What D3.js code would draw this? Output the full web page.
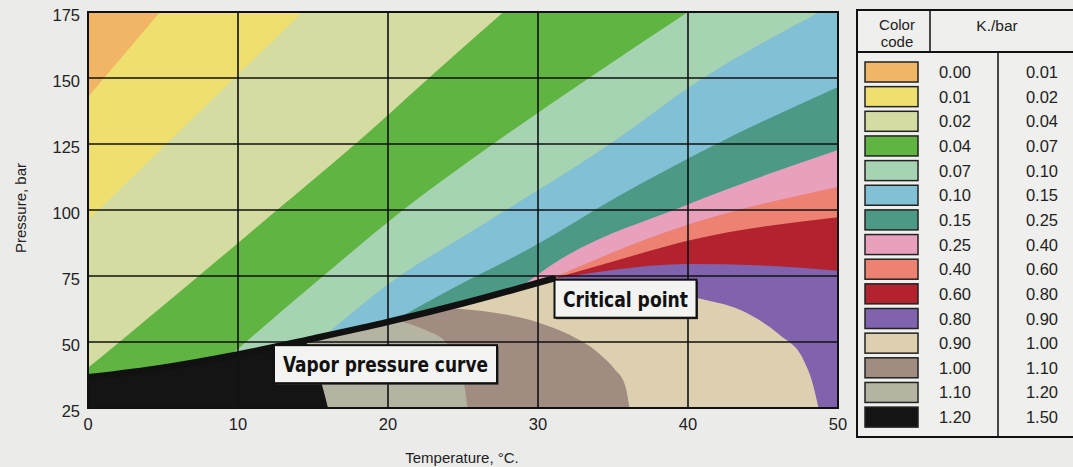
<!DOCTYPE html>
<html>
<head>
<meta charset="utf-8">
<script src="https://cdn.jsdelivr.net/npm/d3@7"></script>
<style>
  body { margin: 0; background: #ebebe9; }
  svg { display: block; }
</style>
</head>
<body>
<div id="chart"></div>
<script>
// ---- data (temperature in °C, pressure in bar) ----
const tempTicks = [0, 10, 20, 30, 40, 50];
const pressTicks = [25, 50, 75, 100, 125, 150, 175];

const bandLow  = ["0.00","0.01","0.02","0.04","0.07","0.10","0.15","0.25","0.40","0.60","0.80","0.90","1.00","1.10","1.20"];
const bandHigh = ["0.01","0.02","0.04","0.07","0.10","0.15","0.25","0.40","0.60","0.80","0.90","1.00","1.10","1.20","1.50"];
const bandColors = ["#f0b565","#efdf6e","#d4dca2","#5fb442","#a6d3b1","#82c0d5","#4c9985",
                    "#e8a0bd","#ee8272","#b2222f","#8063ac","#ddd0b0","#a18c82","#b5b3a2","#141414"];

const vaporCurve = [[0,36.6],[5,40.3],[10,45.3],[15,51.3],[20,57.6],[25,64.6],[31,74]];

// boundaries on the gas / supercritical side, band i | band i+1
const gasBoundaries = [
  [[0,142.8],[4.8,175]],
  [[0,96.2],[14.3,175]],
  [[0,40.2],[2.1,50],[7.3,74.6],[12.6,100],[17.9,125.4],[22.8,150.4],[27.7,175]],
  [[9.3,44],[15.6,74.6],[21,100],[27.1,125.4],[33.5,150.4],[40,175]],
  [[15.6,51.5],[20.1,72.3],[25.5,91.7],[34.6,124.2],[40.8,149.2],[48.8,175]],
  [[20.3,57.8],[24.1,69.7],[29.5,85.6],[35.5,105.7],[41.5,123.9],[50,146.6]],
  [[28.8,70.6],[30.8,78.8],[39.9,101.9],[50,122.7]],
  [[30.6,73.4],[39.9,94.3],[50,108.7]],
  [[30.8,73.7],[35,80.5],[39.9,88.3],[50,97.3]],
  [[31,74],[34,76.5],[40,79.5],[45,79],[50,77]]
];

// edge of the dense region (purple | tan), from the critical point down
const denseEdge = [[31,74],[35.5,73],[40.6,66.7],[43.5,62.1],[46.1,52.7],[47.7,43.2],[48.3,34.5],[48.7,25]];

// boundaries inside the dense region: tan|brown, brown|grey, grey|black
const liquidBoundaries = [
  [[20.8,60],[23.5,62.9],[26.3,61.7],[29.9,57.6],[32.1,52.7],[34.1,45.5],[35.1,39.8],[35.8,33.7],[36.1,25]],
  [[20.5,58.2],[22.5,54.5],[23.9,49.6],[24.9,39.4],[25.3,25]],
  [[14.5,50.6],[15.1,42.4],[15.6,33.7],[16,25]]
];

const annotations = [
  {text: "Vapor pressure curve", t: 12.4, p: 48.8, w: 223, tl: 205},
  {text: "Critical point", t: 31.1, p: 73.6, w: 142, tl: 125}
];

// ---- drawing ----
const width = 1073, height = 467;
const svg = d3.select("#chart").append("svg")
  .attr("width", width).attr("height", height);

svg.append("rect").attr("width", width).attr("height", height).attr("fill", "#ebebe9");

const x = d3.scaleLinear().domain([0, 50]).range([88, 838]);
const y = d3.scaleLinear().domain([25, 175]).range([408, 12]);
const smooth = d3.line().x(d => x(d[0])).y(d => y(d[1])).curve(d3.curveMonotoneX);
const straight = pts => pts.map(d => `L${x(d[0])},${y(d[1])}`).join("");
const region = (pts, tail) => smooth(pts) + straight(tail) + "Z";

const defs = svg.append("defs");
defs.append("clipPath").attr("id", "plotClip")
  .append("rect").attr("x", x(0)).attr("y", y(175))
  .attr("width", x(50) - x(0)).attr("height", y(25) - y(175));

const densePath = smooth(vaporCurve) + smooth(denseEdge).replace(/^M/, "L") + straight([[0, 25]]) + "Z";
defs.append("clipPath").attr("id", "denseClip")
  .append("path").attr("d", densePath);

const plot = svg.append("g").attr("clip-path", "url(#plotClip)");

plot.append("rect")
  .attr("x", x(0)).attr("y", y(175))
  .attr("width", x(50) - x(0)).attr("height", y(25) - y(175))
  .attr("fill", bandColors[0]);

plot.selectAll("path.gas")
  .data(gasBoundaries)
  .join("path").attr("class", "gas")
  .attr("d", pts => {
    const last = pts[pts.length - 1];
    const extra = last[1] >= 175 ? [[50, 175]] : [];
    return region(pts, extra.concat([[50, 25], [pts[0][0], 25]]));
  })
  .attr("fill", (d, i) => bandColors[i + 1]);

plot.append("path").attr("d", densePath).attr("fill", bandColors[11]);

plot.append("g").attr("clip-path", "url(#denseClip)")
  .selectAll("path")
  .data(liquidBoundaries)
  .join("path")
  .attr("d", pts => region(pts, [[0, 25], [0, 175], [pts[0][0], 175]]))
  .attr("fill", (d, i) => bandColors[12 + i]);

// grid
const grid = svg.append("g").attr("stroke", "#111").attr("stroke-width", 1.6);
grid.selectAll("line.v").data(tempTicks).join("line").attr("class", "v")
  .attr("x1", d => x(d)).attr("x2", d => x(d)).attr("y1", y(25)).attr("y2", y(175));
grid.selectAll("line.h").data(pressTicks).join("line").attr("class", "h")
  .attr("x1", x(0)).attr("x2", x(50)).attr("y1", d => y(d)).attr("y2", d => y(d));

// vapor pressure curve
svg.append("g").attr("clip-path", "url(#plotClip)")
  .append("path").attr("d", smooth(vaporCurve))
  .attr("fill", "none").attr("stroke", "#111").attr("stroke-width", 6.5)
  .attr("stroke-linecap", "round");

svg.append("rect")
  .attr("x", x(0)).attr("y", y(175))
  .attr("width", x(50) - x(0)).attr("height", y(25) - y(175))
  .attr("fill", "none").attr("stroke", "#111").attr("stroke-width", 2);

// annotations
const ann = svg.selectAll("g.ann").data(annotations).join("g").attr("class", "ann")
  .attr("transform", d => `translate(${x(d.t)},${y(d.p)})`);
ann.append("rect").attr("x", 1.5).attr("y", 1.5).attr("width", d => d.w).attr("height", 38)
  .attr("fill", "#333");
ann.append("rect").attr("width", d => d.w).attr("height", 38)
  .attr("fill", "#f3f3f1").attr("stroke", "#111").attr("stroke-width", 2);
ann.append("text")
  .attr("x", d => d.w / 2).attr("y", 27)
  .attr("text-anchor", "middle")
  .attr("textLength", d => d.tl).attr("lengthAdjust", "spacingAndGlyphs")
  .style("font-family", "'Liberation Sans Narrow','DejaVu Sans Condensed','Liberation Sans',sans-serif")
  .style("font-weight", "bold").style("font-size", "22px").style("fill", "#111")
  .text(d => d.text);

// axes labels
const tickFont = "'Liberation Sans', Arial, sans-serif";
svg.selectAll("text.yt").data(pressTicks).join("text").attr("class", "yt")
  .attr("x", 80).attr("y", d => y(d) + 9)
  .attr("text-anchor", "end")
  .style("font-family", tickFont).style("font-size", "16.5px").style("fill", "#222")
  .text(d => d);
svg.selectAll("text.xt").data(tempTicks).join("text").attr("class", "xt")
  .attr("x", d => x(d)).attr("y", 430)
  .attr("text-anchor", "middle")
  .style("font-family", tickFont).style("font-size", "16.5px").style("fill", "#222")
  .text(d => d);

svg.append("text")
  .attr("transform", "translate(26,208) rotate(-90)")
  .attr("text-anchor", "middle")
  .style("font-family", tickFont).style("font-size", "15px").style("fill", "#222")
  .text("Pressure, bar");
svg.append("text")
  .attr("x", 462).attr("y", 463)
  .attr("text-anchor", "middle")
  .style("font-family", tickFont).style("font-size", "15px").style("fill", "#222")
  .text("Temperature, °C.");

// legend table
const leg = svg.append("g").style("font-family", tickFont).style("fill", "#222");
const rowY = i => 72 + i * 24.65;
leg.append("rect").attr("x", 857).attr("y", 10).attr("width", 230).attr("height", 427)
  .attr("fill", "#efefed").attr("stroke", "#111").attr("stroke-width", 2);
leg.append("line").attr("x1", 857).attr("x2", 1080).attr("y1", 52).attr("y2", 52)
  .attr("stroke", "#111").attr("stroke-width", 2);
leg.append("line").attr("x1", 930).attr("x2", 930).attr("y1", 10).attr("y2", 52)
  .attr("stroke", "#111").attr("stroke-width", 1.5);
leg.append("line").attr("x1", 998).attr("x2", 998).attr("y1", 52).attr("y2", 437)
  .attr("stroke", "#111").attr("stroke-width", 1.5);
leg.append("text").attr("x", 897).attr("y", 30).attr("text-anchor", "middle")
  .style("font-size", "15px").text("Color");
leg.append("text").attr("x", 897).attr("y", 47).attr("text-anchor", "middle")
  .style("font-size", "15px").text("code");
leg.append("text").attr("x", 997).attr("y", 31).attr("text-anchor", "middle")
  .style("font-size", "15.5px").text("K./bar");

const rows = leg.selectAll("g.row").data(bandLow).join("g").attr("class", "row")
  .attr("transform", (d, i) => `translate(0,${rowY(i)})`);
rows.append("rect").attr("x", 865).attr("y", -10).attr("width", 53).attr("height", 20)
  .attr("fill", (d, i) => bandColors[i]).attr("stroke", "#222").attr("stroke-width", 1.5);
rows.append("text").attr("x", 955).attr("y", 6).attr("text-anchor", "middle")
  .style("font-size", "16.5px").text(d => d);
rows.append("text").attr("x", 1042).attr("y", 6).attr("text-anchor", "middle")
  .style("font-size", "16.5px").text((d, i) => bandHigh[i]);
</script>
</body>
</html>
